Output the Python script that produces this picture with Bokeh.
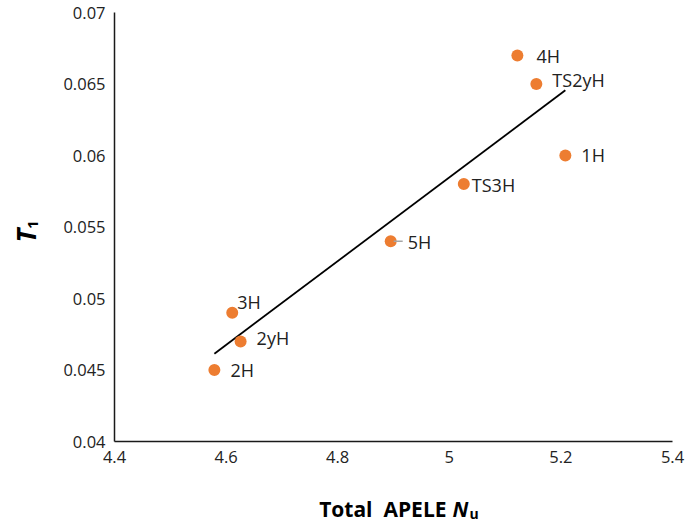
import numpy as np
from bokeh.plotting import figure
from bokeh.models import Range1d, FixedTicker, ColumnDataSource, Label
from bokeh.core.properties import value
from bokeh.embed import file_html
from bokeh.resources import INLINE

# ---- data ----
names = ["2H", "3H", "2yH", "5H", "TS3H", "4H", "TS2yH", "1H"]
apele = [4.579, 4.611, 4.626, 4.895, 5.026, 5.122, 5.156, 5.208]
t1 = [0.045, 0.049, 0.047, 0.054, 0.058, 0.067, 0.065, 0.060]

x_ticks = [4.4, 4.6, 4.8, 5.0, 5.2, 5.4]
x_tick_labels = ["4.4", "4.6", "4.8", "5", "5.2", "5.4"]
y_ticks = [0.04, 0.045, 0.05, 0.055, 0.06, 0.065, 0.07]
y_tick_labels = ["0.04", "0.045", "0.05", "0.055", "0.06", "0.065", "0.07"]

# ---- label placement (pixels, style only) ----
lab_dx = [16, 5, 16, 17, 8, 19, 16, 16]
lab_dy = [0, -11, -3, 1, 1, 1, -4, -1]

FONT = "Open Sans"
ORANGE = "#ED7D31"
TXT = "#222222"

# canvas and axis-box geometry (pixels)
W, H = 685, 523
AX_L, AX_R, AX_T, AX_B = 114, 672, 12, 441
X0, X1 = x_ticks[0], x_ticks[-1]
Y0, Y1 = y_ticks[0], y_ticks[-1]
kx = (AX_R - AX_L) / (X1 - X0)
ky = (AX_B - AX_T) / (Y1 - Y0)

# the frame covers the whole canvas; axes sit at fixed data locations
p = figure(width=W, height=H, output_backend="svg", toolbar_location=None,
           x_range=Range1d(X0 - AX_L / kx, X1 + (W - AX_R) / kx),
           y_range=Range1d(Y0 - (H - AX_B) / ky, Y1 + AX_T / ky),
           min_border=0)
p.outline_line_color = None
p.xgrid.visible = False
p.ygrid.visible = False
p.background_fill_color = "white"
p.border_fill_color = "white"

xa, ya = p.xaxis[0], p.yaxis[0]
xa.fixed_location = Y0
xa.bounds = (X0, X1)
ya.fixed_location = X0
ya.bounds = (Y0, Y1)
for ax, ticks, labels in ((xa, x_ticks, x_tick_labels), (ya, y_ticks, y_tick_labels)):
    ax.ticker = FixedTicker(ticks=ticks)
    ax.major_label_overrides = {t: l for t, l in zip(ticks, labels)}
    ax.major_tick_line_color = None
    ax.minor_tick_line_color = None
    ax.major_tick_in = 0
    ax.major_tick_out = 0
    ax.axis_line_color = "#1a1a1a"
    ax.axis_line_width = 1.5
    ax.major_label_text_font = FONT
    ax.major_label_text_font_size = "16.5px"
    ax.major_label_text_color = TXT
    ax.major_label_standoff = 9

# trendline (least-squares fit of the data, over the data's x extent)
slope, icpt = np.polyfit(apele, t1, 1)
tx = [min(apele), max(apele)]
ty = [slope * v + icpt for v in tx]
p.line(tx, ty, line_color="black", line_width=1.8)

src = ColumnDataSource(dict(x=apele, y=t1, name=names, dx=lab_dx, dy=lab_dy))
p.scatter("x", "y", source=src, size=12, fill_color=ORANGE, line_color=None)

# short leader line for the 5H label
i5 = names.index("5H")
p.segment(x0=[apele[i5] + 3 / kx], y0=[t1[i5]], x1=[apele[i5] + 12 / kx], y1=[t1[i5]],
          line_color="#A6A6A6", line_width=1.5)

p.text("x", "y", text="name", source=src, x_offset="dx", y_offset="dy",
       text_font=value(FONT), text_font_size="18px", text_color=TXT,
       text_align="left", text_baseline="middle")

# axis titles, anchored at the axes' corner (X0, Y0) with pixel offsets (y up)
def lab(text, dx, dy, size, style, align="left", angle=0.0):
    p.add_layout(Label(x=X0, y=Y0, x_offset=dx, y_offset=dy, text=text, angle=angle,
                       text_font=FONT, text_font_size=size, text_font_style=style,
                       text_color="black", text_align=align, text_baseline="alphabetic"))

# x-axis title: "Total  APELE N_u"
lab("Total\u00a0 APELE", 332, -67, "21px", "bold", align="right")
lab("N", 338, -67, "21px", "bold italic")
lab("u", 355, -72, "14px", "bold")
# y-axis title: "T_1"
lab("T", -89, 199, "26px", "bold italic", angle=np.pi / 2)
lab("1", -82, 212.5, "15px", "bold", angle=np.pi / 2)

open("out.html", "w").write(file_html(p, INLINE))
